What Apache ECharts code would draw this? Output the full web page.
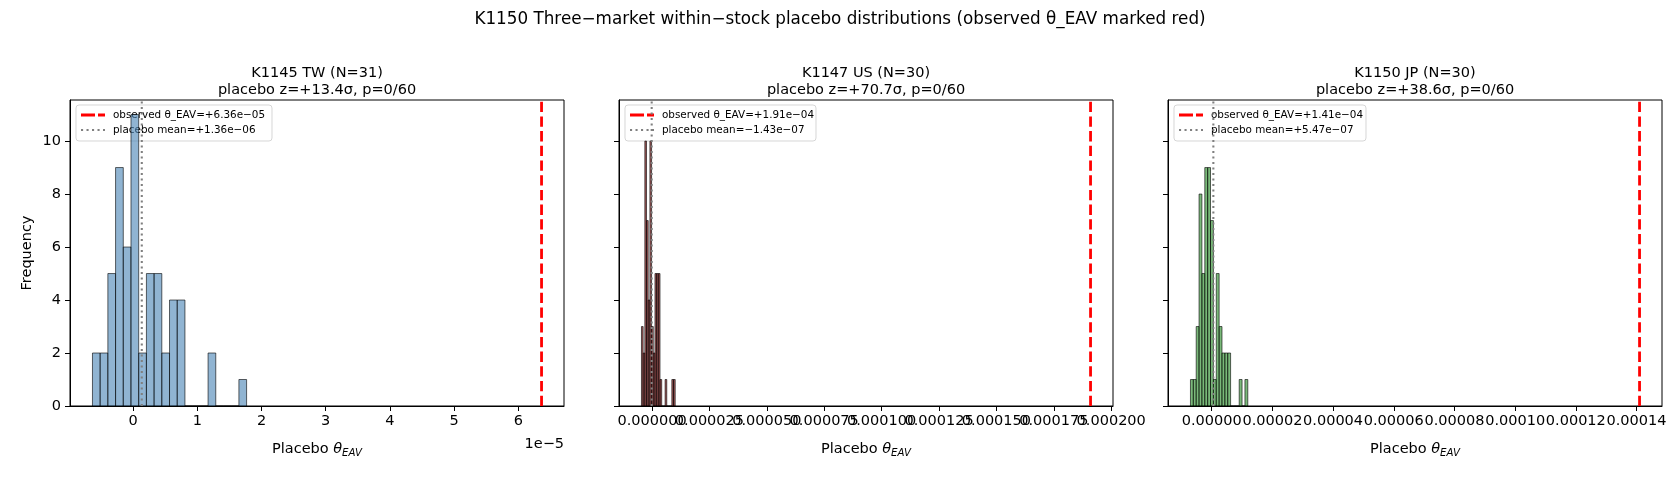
<!DOCTYPE html>
<html>
<head>
<meta charset="utf-8">
<script src="https://cdn.jsdelivr.net/npm/echarts@6/dist/echarts.min.js"></script>
<style>
html, body { margin: 0; padding: 0; background: #fff; }
#chart { width: 1680px; height: 480px; }
</style>
</head>
<body>
<div id="chart"></div>
<script>
// 数据（从图上读出来的）
var suptitle = 'K1150 Three\u2212market within\u2212stock placebo distributions (observed \u03b8_EAV marked red)';
var panelTitles = ['K1145 TW (N=31)', 'K1147 US (N=30)', 'K1150 JP (N=30)'];
var panelSubtitles = ['placebo z=+13.4\u03c3, p=0/60', 'placebo z=+70.7\u03c3, p=0/60', 'placebo z=+38.6\u03c3, p=0/60'];

// histogram: 20 equal bins over binRange, counts per bin
var twBinRange = [-0.632e-5, 1.768e-5];
var twCounts = [2, 2, 5, 9, 6, 11, 2, 5, 5, 2, 4, 4, 0, 0, 0, 2, 0, 0, 0, 1];
var usBinRange = [-0.46e-5, 1.01e-5];
var usCounts = [3, 2, 10, 7, 4, 10, 3, 2, 5, 5, 5, 1, 0, 0, 1, 0, 0, 0, 1, 1];
var jpBinRange = [-0.70e-5, 1.19e-5];
var jpCounts = [1, 1, 3, 8, 5, 9, 9, 7, 1, 5, 3, 2, 2, 2, 0, 0, 0, 1, 0, 1];

var observedTheta = [6.36e-5, 1.91e-4, 1.41e-4];
var placeboMean = [1.36e-6, -1.43e-7, 5.47e-7];
var observedLabels = ['observed \u03b8_EAV=+6.36e\u221205', 'observed \u03b8_EAV=+1.91e\u221204', 'observed \u03b8_EAV=+1.41e\u221204'];
var meanLabels = ['placebo mean=+1.36e\u221206', 'placebo mean=\u22121.43e\u221207', 'placebo mean=+5.47e\u221207'];

// tick labels
var twTicks = [0, 1e-5, 2e-5, 3e-5, 4e-5, 5e-5, 6e-5];
var twTickLabels = ['0', '1', '2', '3', '4', '5', '6'];
var usTicks = [0, 2.5e-5, 5e-5, 7.5e-5, 1e-4, 1.25e-4, 1.5e-4, 1.75e-4, 2e-4];
var usTickLabels = ['0.000000', '0.000025', '0.000050', '0.000075', '0.000100', '0.000125', '0.000150', '0.000175', '0.000200'];
var jpTicks = [0, 2e-5, 4e-5, 6e-5, 8e-5, 1e-4, 1.2e-4, 1.4e-4];
var jpTickLabels = ['0.00000', '0.00002', '0.00004', '0.00006', '0.00008', '0.00010', '0.00012', '0.00014'];
var yTicks = [0, 2, 4, 6, 8, 10];

var binRanges = [twBinRange, usBinRange, jpBinRange];
var countsAll = [twCounts, usCounts, jpCounts];
var ticksAll = [twTicks, usTicks, jpTicks];
var tickLabelsAll = [twTickLabels, usTickLabels, jpTickLabels];
var fills = ['rgba(70,130,180,0.6)', 'rgba(110,10,10,0.68)', 'rgba(34,139,34,0.6)'];

var FONT = 'DejaVu Sans';
var FS = 14.5;
var gridLefts = [70, 619, 1168];
var gridTop = 100, gridW = 494, gridH = 306;

// y 上限: 最大频数 + 5% 边距（跟 matplotlib 一样）
var maxCount = Math.max.apply(null, twCounts.concat(usCounts, jpCounts));
var yMax = maxCount * 1.05;

function binEdges(range, n) {
  var e = [];
  for (var i = 0; i <= n; i++) e.push(range[0] + (range[1] - range[0]) * i / n);
  return e;
}

function xLimits(i) {
  var lo = binRanges[i][0];
  var hi = Math.max(binRanges[i][1], observedTheta[i]);
  var m = (hi - lo) * 0.05;
  return [lo - m, hi + m];
}

function tickLabel(ticks, labels, v) {
  for (var k = 0; k < ticks.length; k++) {
    if (Math.abs(ticks[k] - v) < 1e-9) return labels[k];
  }
  return '';
}

// 偶数/奇数位置的刻度分开，放在两条重合的 x 轴上，这样 echarts 不会藏掉重叠的标签
function pick(arr, parity) {
  return arr.filter(function (_, k) { return k % 2 === parity; });
}

function xAxisDef(i, parity, withName) {
  var lim = xLimits(i);
  var vals = pick(ticksAll[i], parity);
  var ax = {
    type: 'value', gridIndex: i, min: lim[0], max: lim[1], position: 'bottom',
    axisLine: { show: parity === 0, onZero: false, lineStyle: { color: '#000', width: 1 } },
    axisTick: { show: true, length: 5, lineStyle: { color: '#000', width: 1 }, customValues: vals },
    axisLabel: {
      show: true, customValues: vals, margin: 8, color: '#000', fontSize: FS, fontFamily: FONT,
      showMinLabel: true, showMaxLabel: true, hideOverlap: false,
      formatter: function (v) { return tickLabel(ticksAll[i], tickLabelsAll[i], v); }
    },
    splitLine: { show: false }
  };
  if (withName) {
    ax.name = 'Placebo {th|\u03b8}{sub|EAV}';
    ax.nameLocation = 'middle';
    ax.nameGap = 34;
    ax.nameTextStyle = {
      color: '#000', fontSize: FS, fontFamily: FONT, lineHeight: 18,
      rich: {
        th: { fontStyle: 'italic', fontSize: FS, fontFamily: FONT, color: '#000', lineHeight: 18 },
        sub: { fontStyle: 'italic', fontSize: 10.2, fontFamily: FONT, color: '#000', lineHeight: 11, verticalAlign: 'bottom' }
      }
    };
  }
  return ax;
}

var myChart = echarts.init(document.getElementById('chart'));

var grids = [], xAxes = [], yAxes = [], series = [], graphics = [];

for (var i = 0; i < 3; i++) {
  (function (i) {
    grids.push({ left: gridLefts[i], top: gridTop, width: gridW, height: gridH, show: true, borderColor: '#000', borderWidth: 1, backgroundColor: '#fff' });
    xAxes[i] = xAxisDef(i, 0, true);
    xAxes[i + 3] = xAxisDef(i, 1, false);
    yAxes.push({
      type: 'value', gridIndex: i, min: 0, max: yMax,
      axisLine: { show: true, onZero: false, lineStyle: { color: '#000', width: 1 } },
      axisTick: { show: true, length: 5, lineStyle: { color: '#000', width: 1 }, customValues: yTicks },
      axisLabel: { show: i === 0, customValues: yTicks, margin: 9, color: '#000', fontSize: FS, fontFamily: FONT },
      splitLine: { show: false }
    });

    var edges = binEdges(binRanges[i], countsAll[i].length);
    var histData = countsAll[i].map(function (c, k) { return [edges[k], edges[k + 1], c]; });
    series.push({
      type: 'custom', xAxisIndex: i, yAxisIndex: i, silent: true, z: 2,
      encode: { x: [0, 1], y: 2 },
      data: histData,
      renderItem: function (params, api) {
        var p0 = api.coord([api.value(0), api.value(2)]);
        var p1 = api.coord([api.value(1), 0]);
        return {
          type: 'rect',
          shape: { x: p0[0], y: p0[1], width: p1[0] - p0[0], height: p1[1] - p0[1] },
          style: { fill: fills[i], stroke: 'rgba(0,0,0,0.6)', lineWidth: 1 }
        };
      }
    });
    // observed θ (红色虚线)
    series.push({
      type: 'line', xAxisIndex: i, yAxisIndex: i, silent: true, z: 4, symbol: 'none',
      data: [[observedTheta[i], 0], [observedTheta[i], yMax]],
      lineStyle: { color: '#ff0000', width: 2.8, type: [10.3, 4.4] }
    });
    // placebo mean (灰色点线)
    series.push({
      type: 'line', xAxisIndex: i, yAxisIndex: i, silent: true, z: 3, symbol: 'none',
      data: [[placeboMean[i], 0], [placeboMean[i], yMax]],
      lineStyle: { color: '#808080', width: 2.1, type: [2.1, 3.4] }
    });

    // subplot titles
    var cx = gridLefts[i] + gridW / 2;
    graphics.push({ type: 'text', x: cx, y: 73, z: 10, style: { text: panelTitles[i], font: FS + 'px "' + FONT + '"', fill: '#000', textAlign: 'center', textVerticalAlign: 'middle' } });
    graphics.push({ type: 'text', x: cx, y: 90, z: 10, style: { text: panelSubtitles[i], font: FS + 'px "' + FONT + '"', fill: '#000', textAlign: 'center', textVerticalAlign: 'middle' } });

    // legend box
    var bx = gridLefts[i] + 6;
    var bw = [196, 191, 192][i];
    graphics.push({
      type: 'group', z: 20, children: [
        { type: 'rect', shape: { x: bx, y: 105, width: bw, height: 36, r: 3 }, style: { fill: 'rgba(255,255,255,0.8)', stroke: 'rgba(204,204,204,0.8)', lineWidth: 1 } },
        { type: 'line', shape: { x1: bx + 5, y1: 115, x2: bx + 29, y2: 115 }, style: { stroke: '#ff0000', lineWidth: 2.8, lineDash: [14, 3] } },
        { type: 'line', shape: { x1: bx + 5, y1: 130, x2: bx + 29, y2: 130 }, style: { stroke: '#808080', lineWidth: 2.1, lineDash: [2.1, 3.4] } },
        { type: 'text', x: bx + 37, y: 115, style: { text: observedLabels[i], font: '10.4px "' + FONT + '"', fill: '#000', textVerticalAlign: 'middle' } },
        { type: 'text', x: bx + 37, y: 130, style: { text: meanLabels[i], font: '10.4px "' + FONT + '"', fill: '#000', textVerticalAlign: 'middle' } }
      ]
    });
  })(i);
}

graphics.push({ type: 'text', x: 840, y: 20, z: 10, style: { text: suptitle, font: '16.8px "' + FONT + '"', fill: '#000', textAlign: 'center', textVerticalAlign: 'middle' } });
graphics.push({ type: 'text', x: 27, y: 253, rotation: Math.PI / 2, z: 10, style: { text: 'Frequency', font: FS + 'px "' + FONT + '"', fill: '#000', textAlign: 'center', textVerticalAlign: 'middle' } });
// offset text of the first x axis
graphics.push({ type: 'text', x: 564, y: 444, z: 10, style: { text: '1e\u22125', font: FS + 'px "' + FONT + '"', fill: '#000', textAlign: 'right', textVerticalAlign: 'middle' } });

var option = {
  animation: false,
  backgroundColor: '#fff',
  grid: grids,
  xAxis: xAxes,
  yAxis: yAxes,
  series: series,
  graphic: graphics
};

myChart.setOption(option);
</script>
</body>
</html>
